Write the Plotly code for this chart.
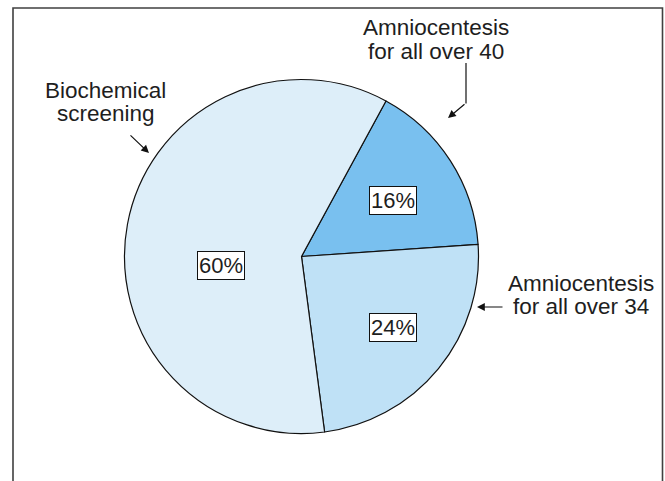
import plotly.graph_objects as go

# ---- data ----
categories = ["Amniocentesis for all over 40", "Amniocentesis for all over 34", "Biochemical screening"]
values = [16, 24, 60]
label_lines = [["Amniocentesis", "for all over 40"], ["Amniocentesis", "for all over 34"], ["Biochemical", "screening"]]

# ---- styles / layout ----
W, H = 665, 481
colors = ["#79C0EF", "#BFE1F6", "#DDEEF9"]
FONT = "Liberation Sans, Arial, Helvetica, sans-serif"
TXT = "#1e1e1e"

def px(x):
    return x / W

def py(y):
    return 1 - y / H

cx, cy, r = 301.5, 256.5, 177

fig = go.Figure(go.Pie(
    labels=categories,
    values=values,
    sort=False,
    direction="clockwise",
    rotation=28.5,
    textinfo="none",
    hoverinfo="label+percent",
    marker=dict(colors=colors, line=dict(color="#111111", width=1.2)),
    domain=dict(x=[px(cx - r), px(cx + r)], y=[py(cy + r), py(cy - r)]),
    showlegend=False,
))

annotations = []

# boxed percentage labels (positions in pixels)
pct_pos = [(393, 201), (393, 327), (221, 265)]
for v, (x, y) in zip(values, pct_pos):
    annotations.append(dict(
        x=px(x), y=py(y), xref="paper", yref="paper", text=f"{v}%",
        showarrow=False, font=dict(family=FONT, size=22, color=TXT),
        bgcolor="white", bordercolor="#111111", borderwidth=1, borderpad=1,
        xanchor="center", yanchor="middle",
    ))

# category text (two lines each, centre x and baselines in pixels)
text_pos = [(435.5, [34, 58]), (581, [290, 313]), (105.5, [97.5, 120.5])]
for lines, (x, bases) in zip(label_lines, text_pos):
    for line, b in zip(lines, bases):
        annotations.append(dict(
            x=px(x), y=py(b - 7), xref="paper", yref="paper", text=line,
            showarrow=False, font=dict(family=FONT, size=22.5, color=TXT),
            xanchor="center", yanchor="middle",
        ))

# arrows: (head x, head y, tail x, tail y)
arrows = [(448, 118, 466, 103), (477, 307, 504, 307), (149, 153, 129, 134)]
for hx, hy, tx, ty in arrows:
    annotations.append(dict(
        x=px(hx), y=py(hy), xref="paper", yref="paper", text="",
        ax=tx - hx, ay=ty - hy, axref="pixel", ayref="pixel",
        showarrow=True, arrowhead=2, arrowsize=1.3, arrowwidth=1.2,
        arrowcolor="#111111", standoff=0, startstandoff=0,
    ))

shapes = [
    # vertical leg of the bent arrow
    dict(type="line", xref="paper", yref="paper",
         x0=px(466), y0=py(63), x1=px(466), y1=py(103.5),
         line=dict(color="#111111", width=1.2)),
    # open frame
    dict(type="path", xref="paper", yref="paper",
         path=f"M {px(13)},{py(495)} L {px(13)},{py(8)} L {px(662.5)},{py(8)} L {px(662.5)},{py(495)}",
         line=dict(color="#404040", width=1.6)),
]

fig.update_layout(
    width=W, height=H,
    margin=dict(l=0, r=0, t=0, b=0),
    paper_bgcolor="white", plot_bgcolor="white",
    annotations=annotations, shapes=shapes,
    font=dict(family=FONT),
)

fig.write_html(
    "out.html",
    config={"displayModeBar": False},
    post_script="document.body.style.margin='0';document.body.style.overflow='hidden';",
)
